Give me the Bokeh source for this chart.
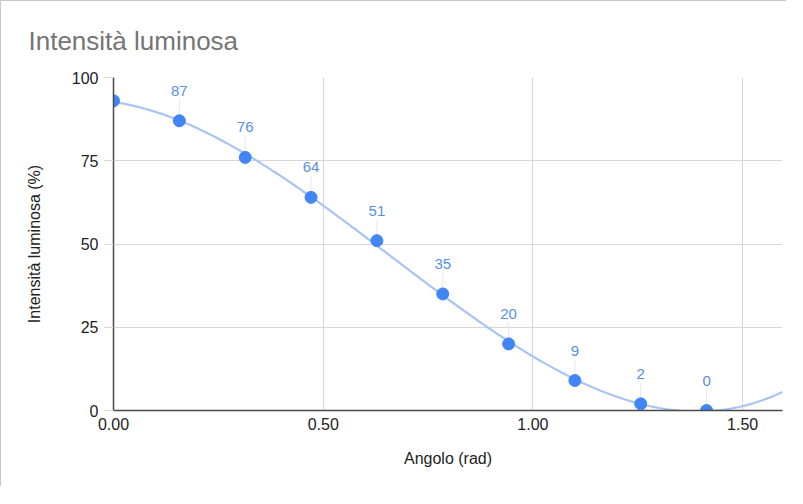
import numpy as np
from bokeh.plotting import figure
from bokeh.models import ColumnDataSource, FixedTicker, Title, PrintfTickFormatter, Range1d
from bokeh.embed import file_html
from bokeh.resources import INLINE
from bokeh.core.properties import value

# ---- data ----
angolo = [0.0, 0.157, 0.314, 0.471, 0.628, 0.785, 0.942, 1.100, 1.257, 1.414]
intensita = [93, 87, 76, 64, 51, 35, 20, 9, 2, 0]
etichette = ["", "87", "76", "64", "51", "35", "20", "9", "2", "0"]
x_ticks = [0.0, 0.5, 1.0, 1.5]
y_ticks = [0, 25, 50, 75, 100]
x_max = 1.595
titolo = "Intensità luminosa"
x_titolo = "Angolo (rad)"
y_titolo = "Intensità luminosa (%)"

FONT = "Liberation Sans"

p = figure(width=786, height=486, output_backend="svg", toolbar_location=None,
           x_range=Range1d(0, x_max), y_range=Range1d(0, 100),
           min_border_left=112, min_border_right=5, min_border_top=76, min_border_bottom=77)
p.styles = {"border-left": "1px solid #c8c8c8", "border-top": "1px solid #c8c8c8"}
p.outline_line_color = None
p.background_fill_color = "white"
p.border_fill_color = "white"

t = Title(text=titolo, align="left", offset=-85, standoff=43,
          text_font=FONT, text_font_size="26px", text_font_style="normal", text_color="#757575")
p.add_layout(t, "above")

# trendline (polynomial fit of the data)
coef = np.polyfit(angolo, intensita, 3)
xs = np.linspace(0, x_max, 300)
ys = np.polyval(coef, xs)
p.line(xs, ys, line_color="#a9c4f2", line_width=2.2)

# leader lines + labels (skip empty labels)
lab_x = [a for a, e in zip(angolo, etichette) if e]
lab_y = [v for v, e in zip(intensita, etichette) if e]
lab_t = [e for e in etichette if e]
lsrc = ColumnDataSource(dict(x=lab_x, y=lab_y, t=lab_t))
p.ray(x="x", y="y", length=21, length_units="screen", angle=np.pi / 2,
      line_color="#e8e8e8", line_width=1, source=lsrc)

src = ColumnDataSource(dict(x=angolo, y=intensita))
p.scatter(x="x", y="y", size=12, fill_color="#4285f4", line_color="#4285f4", source=src)

p.text(x="x", y="y", text="t", y_offset=-30, text_align="center", text_baseline="middle",
       text_font=value(FONT), text_font_size="15px", text_color="#5b8ee6", source=lsrc)

# axes
p.xaxis.ticker = FixedTicker(ticks=x_ticks)
p.yaxis.ticker = FixedTicker(ticks=y_ticks)
p.xaxis.formatter = PrintfTickFormatter(format="%.2f")
p.xgrid.ticker = FixedTicker(ticks=x_ticks)
p.ygrid.ticker = FixedTicker(ticks=y_ticks)
p.grid.grid_line_color = "#d6d6d6"
p.grid.grid_line_width = 1

for ax in (p.xaxis[0], p.yaxis[0]):
    ax.axis_line_color = "#4a4a4a"
    ax.axis_line_width = 1.5
    ax.minor_tick_line_color = None
    ax.major_label_text_font = FONT
    ax.major_label_text_font_size = "16px"
    ax.major_label_text_color = "#222222"
    ax.axis_label_text_font = FONT
    ax.axis_label_text_font_size = "16px"
    ax.axis_label_text_font_style = "normal"
    ax.axis_label_text_color = "#222222"

p.xaxis.axis_label = x_titolo
p.yaxis.axis_label = y_titolo
p.xaxis.major_tick_line_color = None
p.xaxis.major_tick_out = 0
p.xaxis.major_tick_in = 0
p.xaxis.major_label_standoff = 7
p.xaxis.axis_label_standoff = 17
p.yaxis.major_tick_line_color = "#d6d6d6"
p.yaxis.major_tick_out = 9
p.yaxis.major_tick_in = 0
p.yaxis.major_label_standoff = 6
p.yaxis.axis_label_standoff = 26

open("out.html", "w").write(file_html(p, INLINE))
